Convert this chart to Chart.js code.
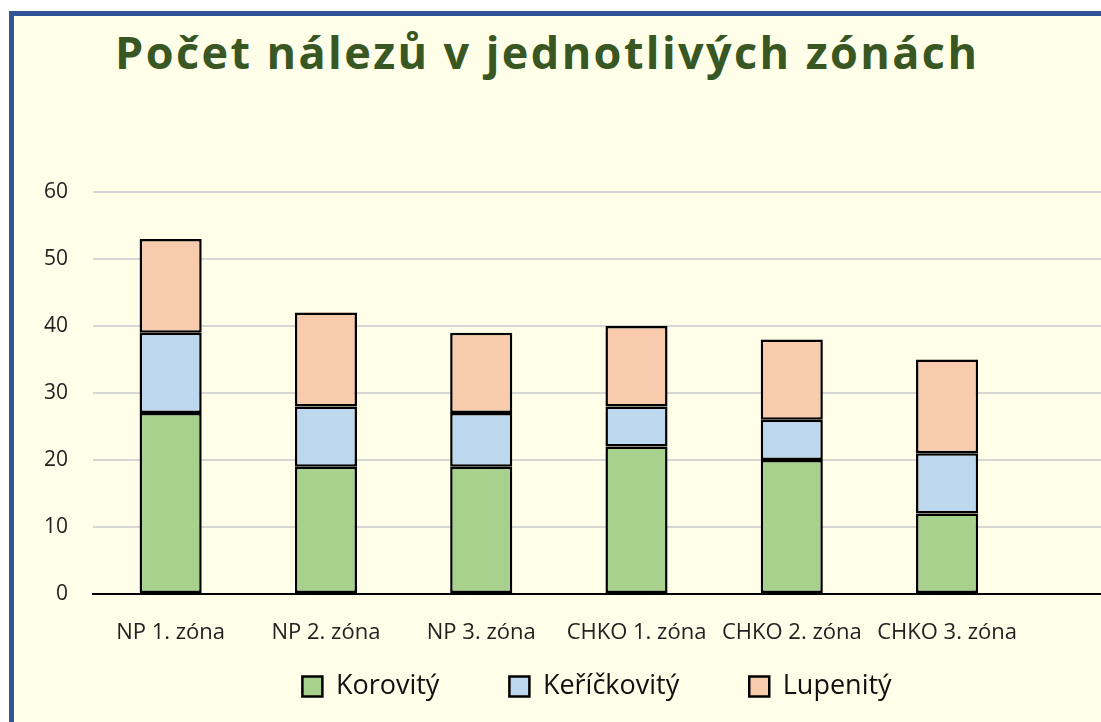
<!DOCTYPE html>
<html>
<head>
<meta charset="utf-8">
<script src="https://cdn.jsdelivr.net/npm/chart.js@4/dist/chart.umd.min.js"></script>
<style>
  html, body { margin: 0; padding: 0; background: #fff; overflow: hidden; }
  #frame {
    position: absolute; left: 9px; top: 11px; width: 1200px; height: 740px;
    border-top: 5px solid #2F5597; border-left: 5px solid #2F5597;
    background: #FFFEE8; overflow: hidden;
  }
  #title {
    position: absolute; left: 101px; top: 11px; margin: 0;
    font-family: "Open Sans", sans-serif; font-weight: 700; font-size: 45px;
    letter-spacing: 2.4px; line-height: 50px; color: #385723; white-space: nowrap;
  }
  #wrap { position: absolute; left: 0; top: 0; width: 1170px; height: 735px; }
</style>
</head>
<body>
<div id="frame">
  <h1 id="title">Počet nálezů v jednotlivých zónách</h1>
  <div id="wrap"><canvas id="zoneChart"></canvas></div>
</div>
<script>
// data
const categories = ['NP 1. zóna', 'NP 2. zóna', 'NP 3. zóna', 'CHKO 1. zóna', 'CHKO 2. zóna', 'CHKO 3. zóna'];
const korovity = [27, 19, 19, 22, 20, 12];
const kerickovity = [12, 9, 8, 6, 6, 9];
const lupenity = [14, 14, 12, 12, 12, 14];
const yTicks = [0, 10, 20, 30, 40, 50, 60];

// legend padding spaces the entries apart but also adds a big gap above them,
// so lift the legend box a bit after layout
const legendLift = {
  id: 'legendLift',
  afterLayout(chart) {
    const lg = chart.legend;
    lg.top -= 41;
    lg.bottom -= 41;
  }
};

const ctx = document.getElementById('zoneChart').getContext('2d');
new Chart(ctx, {
  type: 'bar',
  data: {
    // extra empty slot on the right, the plot area runs past the last bar
    labels: categories.concat(['']),
    datasets: [
      { label: 'Korovitý', data: korovity, backgroundColor: '#A9D18E' },
      { label: 'Keříčkovitý', data: kerickovity, backgroundColor: '#BDD7EE' },
      { label: 'Lupenitý', data: lupenity, backgroundColor: '#F8CBAD' }
    ].map(ds => Object.assign(ds, {
      borderColor: '#000', borderWidth: 2.5, borderSkipped: false,
      barPercentage: 0.4, categoryPercentage: 1
    }))
  },
  options: {
    responsive: true,
    maintainAspectRatio: false,
    animation: false,
    layout: { padding: { top: 176, right: 4, bottom: 0, left: 0 } },
    plugins: {
      legend: {
        position: 'bottom',
        labels: {
          boxWidth: 20, boxHeight: 20, padding: 70,
          color: '#111',
          font: { family: '"Open Sans", sans-serif', size: 27 }
        }
      },
      tooltip: { enabled: false }
    },
    scales: {
      x: {
        stacked: true,
        afterFit: s => { s.height = 50; },
        grid: { display: false },
        border: { color: '#000', width: 2 },
        ticks: { color: '#222', font: { family: '"Open Sans", sans-serif', size: 22 }, padding: 18, maxRotation: 0 }
      },
      y: {
        stacked: true,
        min: 0, max: 60,
        afterFit: s => { s.width = 79; },
        afterBuildTicks: s => { s.ticks = yTicks.map(v => ({ value: v })); },
        grid: { color: '#D6D6D6', lineWidth: 2, drawTicks: false },
        border: { display: false },
        ticks: { color: '#222', font: { family: '"Open Sans", sans-serif', size: 21 }, padding: 25 }
      }
    }
  },
  plugins: [legendLift]
});
</script>
</body>
</html>
